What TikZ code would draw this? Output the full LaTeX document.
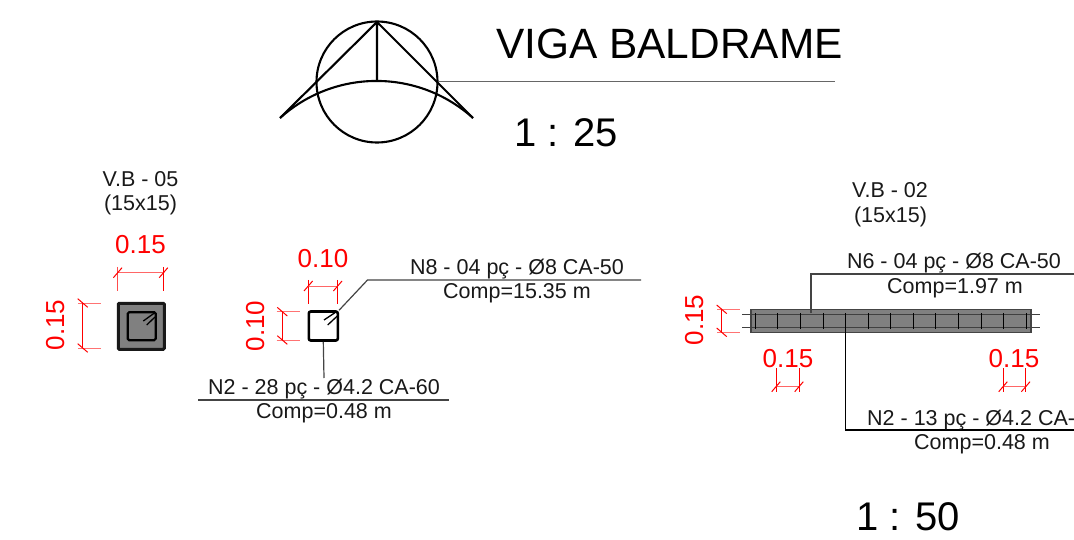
\documentclass[tikz,border=0pt]{standalone}
\usepackage{fontspec}
\setmainfont{Liberation Sans}
\definecolor{beamgray}{HTML}{808080}
\definecolor{leadgray}{HTML}{444444}
\newcommand{\fsz}[1]{\fontsize{#1}{#1}\selectfont}
\tikzset{
  x=1pt,y=-1pt,
  title/.style={anchor=base,inner sep=0,font=\fsz{42.4}},
  scaletxt/.style={anchor=base,inner sep=0,font=\fsz{40}},
  note/.style={anchor=base,inner sep=0,font=\fsz{21.5},text=black!90},
  dimtxt/.style={anchor=base,inner sep=0,font=\fsz{26},text=red},
  dimline/.style={draw=red,line width=1pt},
  symline/.style={draw=black,line width=2.1pt},
  leader/.style={draw=leadgray,line width=1.2pt},
  rebar/.style={draw=black,line width=1.3pt,rounded corners=1.5pt},
  rebarmark/.style={draw=black,line width=1.3pt},
  stirrup/.style={draw=black,line width=1.5pt},
}
\newcommand{\hdim}[3]{% x1,x2,y
  \draw[dimline,draw=red!60] (#1,#3) -- (#2,#3);
  \draw[dimline] (#1-4.3,#3+5) -- (#1+4.3,#3-5);
  \draw[dimline] (#2-4.3,#3+5) -- (#2+4.3,#3-5);
}
\newcommand{\vdim}[3]{% y1,y2,x
  \draw[dimline] (#3,#1) -- (#3,#2);
  \draw[dimline] (#3-5,#1-4.3) -- (#3+5,#1+4.3);
  \draw[dimline] (#3-5,#2-4.3) -- (#3+5,#2+4.3);
}
\begin{document}
\begin{tikzpicture}
\useasboundingbox[fill=white] (0,0) rectangle (1074,540);
% title symbol
\node[circle,draw=black,line width=2.1pt,minimum size=121pt,inner sep=0] (sym) at (377,82) {};
\coordinate (apex) at (377,22);
\coordinate (mid) at (377,81);
\coordinate (tl) at (280,118);
\coordinate (tr) at (473,118);
\coordinate (titleend) at (835,81.5);
\draw[symline] (tl) -- (apex) -- (tr) (apex) -- (mid);
\draw[symline] (tl) .. controls (335,68.6) and (418,68.6) .. (tr);
\draw[leader,draw=black!60] (sym.east |- titleend) -- (titleend);
\node[title] (ttl) at (669.5,59) {VIGA BALDRAME};
\node[scaletxt] (s25) at (566,146.5) {1 : 25};
% V.B-05
\node[note] (vb5a) at (140.5,186.5) {V.B - 05};
\node[note] (vb5b) at (140.5,211) {(15x15)};
\node[dimtxt] (d1) at (140.5,253.5) {0.15};
\node[dimtxt,rotate=90] (d2) at (64,325) {0.15};
\draw[dimline,draw=red!55] (78,303) -- (101,303) (78,348) -- (101,348);
\draw[dimline,draw=red!70] (117.7,267) -- (117.7,291);
\draw[dimline] (163.5,267) -- (163.5,291);
\hdim{117.7}{163.5}{272.7}
\vdim{303}{348}{82.7}
\node[rectangle,draw=black!90,fill=beamgray,line width=3pt,rounded corners=1pt,minimum size=46pt,inner sep=0] (sec1) at (141.3,326.3) {};
\node[rectangle,rebar,line width=2.2pt,minimum size=28pt,inner sep=0] (sec1i) at (141.7,326.2) {};
\draw[rebarmark] (143.3,321) -- (154,313.3) (146.7,325) -- (155,317);
% N8 section
\node[dimtxt] (d3) at (323,267.5) {0.10};
\node[dimtxt,rotate=90] (d4) at (264,326) {0.10};
\draw[dimline,draw=red!55] (276.7,311.7) -- (300,311.7) (276.7,340) -- (300,340);
\draw[dimline] (308.3,280) -- (308.3,304) (337.7,280) -- (337.7,304);
\hdim{308.3}{337.7}{286}
\vdim{311.7}{340}{282.3}
\node[rectangle,rebar,line width=2.6pt,rounded corners=2pt,minimum size=29pt,inner sep=0] (sec2) at (323.3,326) {};
\draw[rebarmark] (324,320) -- (335,312.7) (327.7,325) -- (337.3,316);
\coordinate (n8a) at (367.5,280);
\coordinate (n8b) at (393,280);
\coordinate (n8c) at (641,280);
\draw[leader] (sec2.north east) -- (n8a) -- (n8b) -- (n8c);
\node[note] (n8t) at (517,274.5) {N8 - 04 pç - Ø8 CA-50};
\node[note] (n8m) at (517,298.5) {Comp=15.35 m};
\coordinate (n2a) at (198,400);
\coordinate (n2b) at (449,400);
\coordinate (n2c) at (324,378);
\draw[leader] (sec2.south) -- (n2c);
\draw[leader] (n2a) -- (n2b);
\node[note] (n2t) at (324,394.5) {N2 - 28 pç - Ø4.2 CA-60};
\node[note] (n2m) at (324,418.5) {Comp=0.48 m};
% V.B-02 beam
\node[note] (vb2a) at (890,197.5) {V.B - 02};
\node[note] (vb2b) at (890.5,222.5) {(15x15)};
\node[rectangle,draw=leadgray,fill=beamgray,line width=1.6pt,minimum width=280pt,minimum height=23pt,inner sep=0] (beam) at (891,321) {};
\coordinate (ra) at (742.3,314.5); \coordinate (rb) at (1039.7,314.5);
\coordinate (rc) at (742.3,327.5); \coordinate (rd) at (1039.7,327.5);
\draw[draw=black!75,line width=1.3pt] (ra) -- (rb) (rc) -- (rd);
\foreach \xx in {755.5,777.5,800.5,823.5,845.5,868.5,890.5,913.5,935.5,958.5,981.5,1003.5,1026.5}
  \draw[stirrup] (\xx,313) -- (\xx,329);
\draw[dimline,draw=red!55] (717,309.3) -- (740,309.3) (717,332.3) -- (740,332.3);
\vdim{309.3}{332.3}{721.7}
\node[dimtxt,rotate=90] (d5) at (703,320) {0.15};
\node[dimtxt] (d6) at (788,367) {0.15};
\draw[dimline] (776,368) -- (776,392) (799,368) -- (799,392);
\hdim{776}{799}{386.7}
\node[dimtxt] (d7) at (1014,367) {0.15};
\draw[dimline] (1003,368) -- (1003,392) (1025.7,368) -- (1025.7,392);
\hdim{1003}{1025.7}{386.7}
\coordinate (n6a) at (811,313);
\coordinate (n6b) at (811,274);
\coordinate (n6c) at (1074,274);
\draw[leader] (n6a) -- (n6b) -- (n6c);
\node[note] (n6t) at (954,268.5) {N6 - 04 pç - Ø8 CA-50};
\node[note] (n6m) at (955,293.5) {Comp=1.97 m};
\coordinate (n13a) at (845.5,329);
\coordinate (n13b) at (845.5,430);
\coordinate (n13c) at (1074,430);
\draw[draw=black,line width=1.1pt] (n13a) -- (n13b) -- (n13c);
\node[note,anchor=base west] (n13t) at (867,425) {N2 - 13 pç - Ø4.2 CA-};
\node[note] (n13m) at (982,449.5) {Comp=0.48 m};
\node[scaletxt] (s50) at (908,530) {1 : 50};
\end{tikzpicture}
\end{document}
